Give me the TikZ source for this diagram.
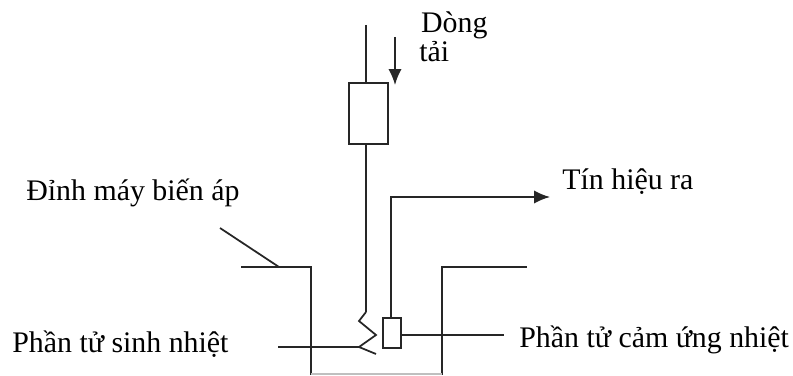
\documentclass[tikz,border=0pt]{standalone}
\usepackage{fontspec}
\setmainfont{Liberation Serif}
\usepackage{tikz}
\usetikzlibrary{arrows.meta}

\tikzset{
  wire/.style={line width=1pt,black!85},
  flow/.style={wire,-{Latex[length=9pt,width=7.5pt]}},
  label/.style={inner sep=0pt,font=\fontsize{17}{17}\selectfont},
}

\begin{document}
\begin{tikzpicture}[x=0.02cm,y=-0.02cm]
\useasboundingbox (0,0) rectangle (793,375);

% fuse and load current
\coordinate (feedtop) at (366,25);
\coordinate (feedend) at (366,312);
\node[wire,draw,fill=white,minimum width=0.78cm,minimum height=1.22cm,inner sep=0pt] (fuse) at (368.5,113.5) {};
\draw[wire] (feedtop) -- (feedtop |- fuse.north);
\draw[wire] (feedtop |- fuse.south) -- (feedend);
\coordinate (currtop) at (395,37);
\coordinate (currend) at (395,85);
\draw[flow] (currtop) -- (currend);
\node[label,anchor=north west,align=left] (load) at (419,11) {\hspace*{1pt}Dòng\\tải};

% heater
\coordinate (zig1) at (359,321);
\coordinate (zig2) at (376,335);
\coordinate (zig3) at (359,347);
\coordinate (zig4) at (376,354);
\draw[wire] (feedend) -- (zig1) -- (zig2) -- (zig3) -- (zig4);
\coordinate (heatend) at (278,347);
\draw[wire] (heatend) -- (zig3);
\node[label,anchor=base west] (heatlbl) at (12,352) {Phần tử sinh nhiệt};

% sensor
\node[wire,draw,minimum width=0.36cm,minimum height=0.6cm,inner sep=0pt] (sensor) at (392,333) {};
\coordinate (sigcorner) at (391,197);
\coordinate (sigend) at (550,197);
\draw[flow] (sensor.north -| sigcorner) -- (sigcorner) -- (sigend);
\node[label,anchor=base west] (siglbl) at (562,189) {Tín hiệu ra};
\coordinate (senseend) at (504,335);
\draw[wire] (sensor.east |- senseend) -- (senseend);
\node[label,anchor=base west] (senselbl) at (519,347) {Phần tử cảm ứng nhiệt};

% tank
\coordinate (tankL) at (241,267);
\coordinate (tankA) at (311,267);
\coordinate (tankB) at (311,375);
\coordinate (tankC) at (442,375);
\coordinate (tankD) at (442,267);
\coordinate (tankR) at (527,267);
\draw[wire] (tankL) -- (tankA) -- (tankB);
\draw[wire] (tankC) -- (tankD) -- (tankR);
\draw[black!25,line width=0.6pt] (311,374) -- (442,374);
\coordinate (topend) at (220,228);
\coordinate (topfoot) at (279,267);
\draw[wire] (topend) -- (topfoot);
\node[label,anchor=base west] (toplbl) at (26,200) {Đỉnh máy biến áp};
\end{tikzpicture}
\end{document}
